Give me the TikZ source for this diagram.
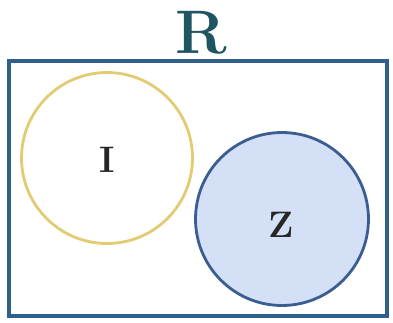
\documentclass[tikz,border=0pt]{standalone}
\usepackage{amsmath}
\usetikzlibrary{positioning}
\definecolor{setteal}{HTML}{1E5560}
\definecolor{setframe}{HTML}{2F5F8A}
\definecolor{setyellow}{HTML}{E2CB72}
\definecolor{setblue}{HTML}{3A5D92}
\definecolor{setfill}{HTML}{D3E0F5}
\tikzset{
    universe/.style={
        draw=setframe,
        line width=2.2pt
    },
    set circle/.style={
        circle,
        inner sep=0pt,
        line width=1.6pt
    },
    set label/.style={
        font=\bfseries\fontsize{21}{24}\selectfont,
        text=black!85
    }
}
\begin{document}
\begin{tikzpicture}[x=0.02cm,y=-0.02cm]
\useasboundingbox (0,0) rectangle (393,322);
\draw[universe] (9,61) rectangle (387,316);
\node[font=\bfseries\fontsize{35}{38}\selectfont,text=setteal] (R) at (201,33) {R};
\node[set circle,draw=setyellow,minimum size=3.42cm] (circI) at (107,158) {};
\node[set circle,draw=setblue,fill=setfill,minimum size=3.46cm] (circZ) at (282,219) {};
\node[set label] (I) at ([shift={(0,2)}]circI) {I};
\node[set label] (Z) at ([shift={(-1,6)}]circZ) {Z};
\end{tikzpicture}
\end{document}
